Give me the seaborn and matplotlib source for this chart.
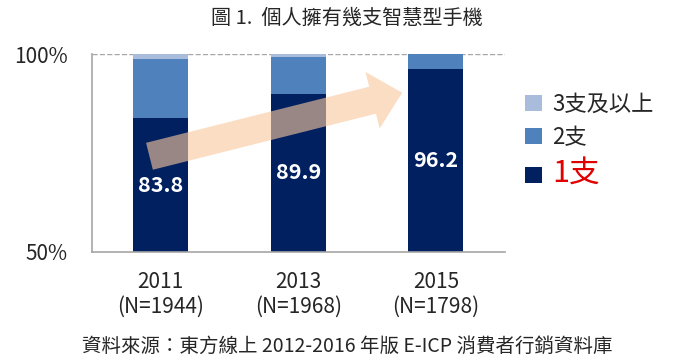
import numpy as np
import pandas as pd
import matplotlib
matplotlib.use("Agg")
import matplotlib.pyplot as plt
import seaborn as sns
from matplotlib.patches import Patch

sns.set_style("white")
plt.rcParams['font.family'] = ['Noto Sans CJK TC', 'DejaVu Sans']

# data
years = ['2011', '2013', '2015']
sample_n = [1944, 1968, 1798]
one_phone = [83.8, 89.9, 96.2]
two_phones = [14.9, 9.3, 3.8]
three_plus = [1.3, 0.8, 0.0]
layer_names = ['3支及以上', '2支', '1支']
layer_colors = ['#a9bcdc', '#4f81bd', '#002060']

df = pd.DataFrame({'year': years, 'one': one_phone, 'two': two_phones, 'three': three_plus})
df['cum1'] = df['one']
df['cum2'] = df['one'] + df['two']
df['cum3'] = df['cum2'] + df['three']

fig = plt.figure(figsize=(7, 3.63), dpi=100)
ax = fig.add_axes([0.131, 0.306, 0.59, 0.545])

# stacked bars: draw cumulative totals, biggest first
for col, c in zip(['cum3', 'cum2', 'cum1'], layer_colors):
    sns.barplot(data=df, x='year', y=col, color=c, width=0.4, ax=ax,
                saturation=1, edgecolor='none')

ax.set_ylim(50, 100)
ax.set_xlim(-0.5, 2.5)
ax.axhline(100, color='#a6a6a6', ls='--', lw=1, zorder=0)

# bar value labels centred on the visible part of each bar
for i, v in enumerate(one_phone):
    ax.text(i, (50 + v) / 2, f'{v:.1f}', ha='center', va='center',
            color='white', fontsize=15.5, fontweight='bold', zorder=5)

# trend arrow
ax.annotate('', xy=(1.775, 90.4), xytext=(-0.10, 74.0),
            arrowprops=dict(arrowstyle='simple,head_length=1.1,head_width=2.1,tail_width=1.0',
                            mutation_scale=20, color='#f9c89f', alpha=0.62, lw=0),
            zorder=4)

ax.set_xlabel('')
ax.set_ylabel('')
ax.set_yticks([50, 100])
ax.set_yticklabels(['50%', '100%'], fontsize=15)
ax.set_xticks(range(len(years)))
ax.set_xticklabels([f'{y}\n(N={n})' for y, n in zip(years, sample_n)], fontsize=15,
                   linespacing=1.15)
ax.set_xticks([-0.5, 0.5, 1.5, 2.5], minor=True)
ax.tick_params(axis='x', which='major', length=0, pad=14)
ax.tick_params(axis='x', which='minor', length=5, color='#a6a6a6', width=1)
ax.tick_params(axis='y', length=7, direction='inout', color='#a6a6a6', width=1, pad=14)

for s in ['top', 'right']:
    ax.spines[s].set_visible(False)
for s in ['left', 'bottom']:
    ax.spines[s].set_color('#a6a6a6')
    ax.spines[s].set_linewidth(1.2)

handles = [Patch(facecolor=c, edgecolor='none') for c in layer_colors]
leg = fig.legend(handles, layer_names, loc='upper left', bbox_to_anchor=(0.722, 0.80),
                 frameon=False, fontsize=16, handlelength=0.75, handleheight=0.75,
                 handletextpad=0.45, labelspacing=0.45)
texts = leg.get_texts()
texts[2].set_color('#e00000')
texts[2].set_fontsize(22)

fig.text(0.496, 0.95, '圖 1.  個人擁有幾支智慧型手機', ha='center', va='center', fontsize=14.5)
fig.text(0.496, 0.045, '資料來源：東方線上 2012-2016 年版 E-ICP 消費者行銷資料庫',
         ha='center', va='center', fontsize=14)

fig.savefig('out.png', dpi=100)
